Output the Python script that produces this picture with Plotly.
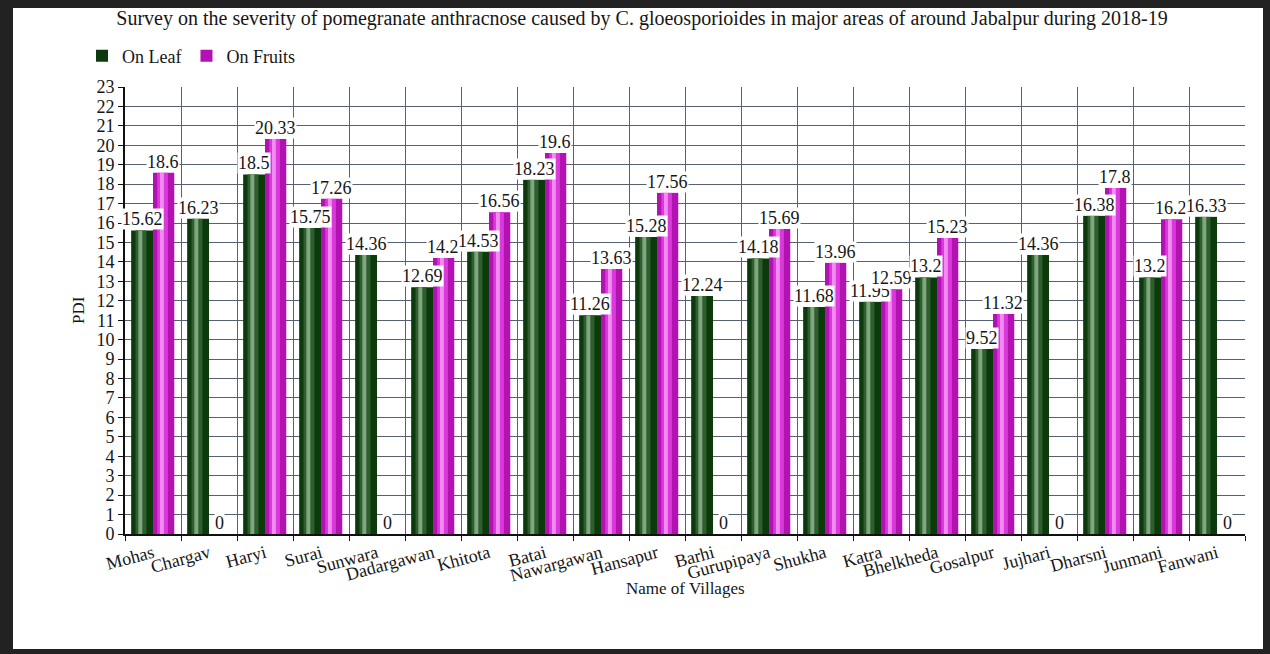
import plotly.graph_objects as go

villages = ["Mohas", "Chargav", "Haryi", "Surai", "Sunwara", "Dadargawan", "Khitota", "Batai",
            "Nawargawan", "Hansapur", "Barhi", "Gurupipaya", "Shukha", "Katra", "Bhelkheda",
            "Gosalpur", "Jujhari", "Dharsni", "Junmani", "Fanwani"]
on_leaf = [15.62, 16.23, 18.5, 15.75, 14.36, 12.69, 14.53, 18.23, 11.26, 15.28, 12.24,
           14.18, 11.68, 11.95, 13.2, 9.52, 14.36, 16.38, 13.2, 16.33]
on_fruits = [18.6, 0, 20.33, 17.26, 0, 14.2, 16.56, 19.6, 13.63, 17.56, 0,
             15.69, 13.96, 12.59, 15.23, 11.32, 0, 17.8, 16.2, 0]
y_ticks = list(range(0, 24))

W, H = 1270, 654
ML, MR, MT, MB = 125, 25, 87, 120
PW, PH = W - ML - MR, H - MT - MB

def px(x):
    return (x - ML) / PW

def py(y):
    return (H - MB - y) / PH

SERIF = "Liberation Serif, Times New Roman, serif"
TXT = "#161616"

fig = go.Figure()

def add_cyl(values, name, off, wid, colors):
    dark, mid, light = colors
    fig.add_trace(go.Bar(x=villages, y=values, name=name, marker=dict(color=dark, line=dict(width=0)),
                         offset=off, width=wid, hoverinfo="y"))
    fig.add_trace(go.Bar(x=villages, y=values, showlegend=False, marker=dict(color=mid, line=dict(width=0)),
                         offset=off + wid * 0.2, width=wid * 0.5, hoverinfo="skip"))
    fig.add_trace(go.Bar(x=villages, y=values, showlegend=False, marker=dict(color=light, line=dict(width=0)),
                         offset=off + wid * 0.33, width=wid * 0.18, hoverinfo="skip"))

add_cyl(on_leaf, "On Leaf", -0.39, 0.39, ("#0c3a0c", "#2f5f2f", "#7fa67f"))
add_cyl(on_fruits, "On Fruits", 0.0, 0.38, ("#b312b3", "#d93ad9", "#f48af4"))

annotations = []
for v, a, b in zip(villages, on_leaf, on_fruits):
    annotations.append(dict(x=v, y=a, xref="x", yref="y", text=f"{a:g}", showarrow=False,
                            yanchor="bottom", xshift=-11, bgcolor="white",
                            font=dict(family=SERIF, size=18, color=TXT), borderpad=0))
    annotations.append(dict(x=v, y=b, xref="x", yref="y", text=f"{b:g}", showarrow=False,
                            yanchor="bottom", xshift=10, bgcolor="white",
                            font=dict(family=SERIF, size=18, color=TXT), borderpad=0))

annotations.append(dict(text="Name of Villages", x=px(685), y=py(588), xref="paper", yref="paper",
                        xanchor="center", yanchor="middle",
                        showarrow=False, font=dict(family=SERIF, size=17, color=TXT)))
annotations.append(dict(text="PDI", x=px(78), y=py(310), xref="paper", yref="paper", textangle=-90,
                        xanchor="center", yanchor="middle",
                        showarrow=False, font=dict(family=SERIF, size=17, color=TXT)))

shapes = []
border = "#222222"
for (x0, y0, x1, y1) in [(0, 0, 13, H), (0, 0, W, 8), (W - 7, 0, W, H), (0, H - 5, W, H)]:
    shapes.append(dict(type="rect", xref="paper", yref="paper", x0=px(x0), x1=px(x1),
                       y0=py(y1), y1=py(y0), fillcolor=border, line=dict(width=0), layer="above"))

fig.update_layout(
    width=W, height=H,
    margin=dict(l=ML, r=MR, t=MT, b=MB),
    paper_bgcolor="white", plot_bgcolor="white",
    barmode="overlay",
    title=dict(text="Survey on the severity of pomegranate anthracnose caused by C. gloeosporioides in major areas of around Jabalpur during 2018-19",
               x=642 / W, xanchor="center", xref="container", y=1 - 18 / H, yanchor="middle", yref="container",
               font=dict(family=SERIF, size=20, color=TXT)),
    legend=dict(orientation="h", x=px(82), y=py(56), xanchor="left", yanchor="middle", itemwidth=30,
                font=dict(family=SERIF, size=18, color=TXT), bgcolor="rgba(0,0,0,0)"),
    xaxis=dict(type="category", tickson="boundaries", showgrid=True, gridcolor="#56626f", gridwidth=1,
               showline=True, linecolor="#111", linewidth=2, ticks="outside", ticklen=5, tickcolor="#111",
               tickangle=-15, tickfont=dict(family=SERIF, size=18, color=TXT), range=[-0.5, 19.5]),
    yaxis=dict(range=[0, 23], tickvals=y_ticks, showgrid=True, gridcolor="#56626f", gridwidth=1,
               showline=True, linecolor="#111", linewidth=2, ticks="outside", ticklen=5, tickcolor="#111",
               tickfont=dict(family=SERIF, size=18, color=TXT), zeroline=False),
    annotations=annotations,
    shapes=shapes,
    showlegend=True,
)

fig.write_html("out.html")
